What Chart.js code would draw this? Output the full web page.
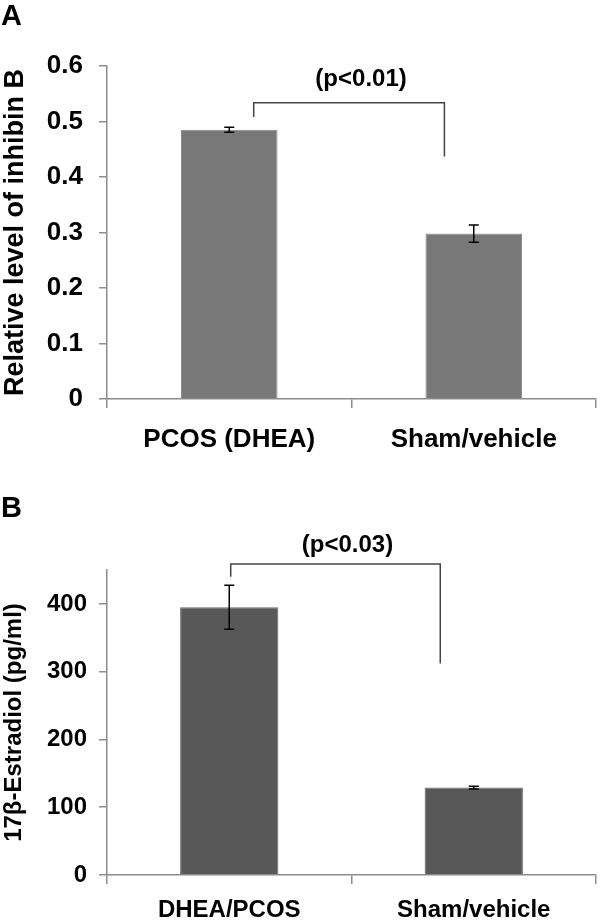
<!DOCTYPE html>
<html>
<head>
<meta charset="utf-8">
<script src="https://cdn.jsdelivr.net/npm/chart.js@4.4.0/dist/chart.umd.min.js"></script>
<style>
  body { margin: 0; background: #fff; }
  canvas { position: absolute; left: 0; }
  .letter { position: absolute; left: 1px; font: bold 29px 'Liberation Sans', Arial, sans-serif; line-height: 1; color: #000; z-index: 2; }
</style>
</head>
<body>
<div class="letter" style="top:1px">A</div>
<canvas id="chartA" width="600" height="460" style="top:0"></canvas>
<div class="letter" style="top:493px">B</div>
<canvas id="chartB" width="600" height="463" style="top:460px"></canvas>
<script>
// panel A: inhibin B
const groupsA = ['PCOS (DHEA)', 'Sham/vehicle'];
const inhibinB = [0.485, 0.298];
const inhibinErr = [0.0045, 0.0155];
const ticksA = [0, 0.1, 0.2, 0.3, 0.4, 0.5, 0.6];
const bracketA = [0.508, 0.534, 0.437];   // left foot, top, right foot
const pLabelA = '(p<0.01)';

// panel B: estradiol
const groupsB = ['DHEA/PCOS', 'Sham/vehicle'];
const estradiol = [395, 129];
const estradiolErr = [32.5, 2];
const ticksB = [0, 100, 200, 300, 400];
const bracketB = [440, 459, 312];
const pLabelB = '(p<0.03)';

const FONT = "'Liberation Sans', Arial, sans-serif";
const AXIS_GRAY = '#8c8c8c';

function errorBars(errors) {
  return {
    id: 'errorBars',
    afterDatasetsDraw(chart) {
      const ctx = chart.ctx, y = chart.scales.y;
      const values = chart.data.datasets[0].data;
      ctx.save();
      ctx.strokeStyle = '#000';
      ctx.lineWidth = 1.5;
      chart.getDatasetMeta(0).data.forEach((bar, i) => {
        const top = y.getPixelForValue(values[i] + errors[i]);
        const bot = y.getPixelForValue(values[i] - errors[i]);
        ctx.beginPath();
        ctx.moveTo(bar.x, top); ctx.lineTo(bar.x, bot);
        ctx.moveTo(bar.x - 5, top); ctx.lineTo(bar.x + 5, top);
        ctx.moveTo(bar.x - 5, bot); ctx.lineTo(bar.x + 5, bot);
        ctx.stroke();
      });
      ctx.restore();
    }
  };
}

// significance bracket between the two bars, with the p-value above it
function bracket(heights, shift, label, gap, fontSize) {
  return {
    id: 'bracket',
    afterDraw(chart) {
      const ctx = chart.ctx, x = chart.scales.x, y = chart.scales.y;
      const band = x.width / chart.data.labels.length;
      const x1 = x.getPixelForValue(0) + shift[0] * band;
      const x2 = x.getPixelForValue(1) + shift[1] * band;
      const yTop = y.getPixelForValue(heights[1]);
      ctx.save();
      ctx.strokeStyle = '#444';
      ctx.lineWidth = 1.5;
      ctx.beginPath();
      ctx.moveTo(x1, y.getPixelForValue(heights[0]));
      ctx.lineTo(x1, yTop);
      ctx.lineTo(x2, yTop);
      ctx.lineTo(x2, y.getPixelForValue(heights[2]));
      ctx.stroke();
      ctx.fillStyle = '#000';
      ctx.font = 'bold ' + fontSize + 'px ' + FONT;
      ctx.textAlign = 'center';
      ctx.textBaseline = 'alphabetic';
      ctx.fillText(label, (x1 + x2) / 2 + 12, yTop - gap);
      ctx.restore();
    }
  };
}

function makeChart(id, o) {
  return new Chart(document.getElementById(id), {
    type: 'bar',
    data: {
      labels: o.labels,
      datasets: [{
        data: o.values,
        backgroundColor: o.color,
        borderColor: o.edge,
        borderWidth: 1,
        categoryPercentage: 1,
        barPercentage: o.barPct
      }]
    },
    options: {
      responsive: false,
      animation: false,
      layout: { padding: { top: o.top, right: 4, left: 0, bottom: 0 } },
      plugins: { legend: { display: false }, tooltip: { enabled: false } },
      scales: {
        x: {
          afterFit: s => { s.height = o.xHeight; },
          grid: { drawOnChartArea: false, color: AXIS_GRAY, lineWidth: 1.5, tickLength: 9 },
          border: { color: AXIS_GRAY, width: 1.5 },
          ticks: { color: '#000', padding: o.xPad, maxRotation: 0,
                   font: { family: FONT, weight: 'bold', size: o.xFont } }
        },
        y: {
          min: 0,
          max: o.max,
          afterFit: s => { s.width = 107; },
          afterBuildTicks: s => { s.ticks = o.ticks.map(v => ({ value: v })); },
          grid: { drawOnChartArea: false, color: AXIS_GRAY, lineWidth: 1.5, tickLength: 8 },
          border: { color: AXIS_GRAY, width: 1.5 },
          ticks: { color: '#000', padding: o.yPad, callback: v => String(v),
                   font: { family: FONT, weight: 'bold', size: o.yFont } },
          title: { display: true, text: o.title, color: '#000',
                   padding: { top: 2, bottom: 0 },
                   font: { family: FONT, weight: 'bold', size: o.titleFont, lineHeight: 1 } }
        }
      }
    },
    plugins: [errorBars(o.errors), bracket(o.bracket, o.shift, o.pLabel, o.gap, 24)]
  });
}

makeChart('chartA', {
  labels: groupsA, values: inhibinB, errors: inhibinErr, ticks: ticksA, max: 0.6,
  color: '#787878', edge: '#8a8a8a', barPct: 0.395,
  top: 66, xHeight: 61, xPad: 16, xFont: 26, yPad: 16, yFont: 26,
  title: 'Relative level of inhibin B', titleFont: 27,
  bracket: bracketA, shift: [0.10, -0.12], pLabel: pLabelA, gap: 17
});

makeChart('chartB', {
  labels: groupsB, values: estradiol, errors: estradiolErr, ticks: ticksB, max: 450,
  color: '#585858', edge: '#6a6a6a', barPct: 0.402,
  top: 110, xHeight: 48, xPad: 12, xFont: 24, yPad: 12, yFont: 24,
  title: '17β-Estradiol (pg/ml)', titleFont: 24,
  bracket: bracketB, shift: [0.006, -0.137], pLabel: pLabelB, gap: 12
});
</script>
</body>
</html>
